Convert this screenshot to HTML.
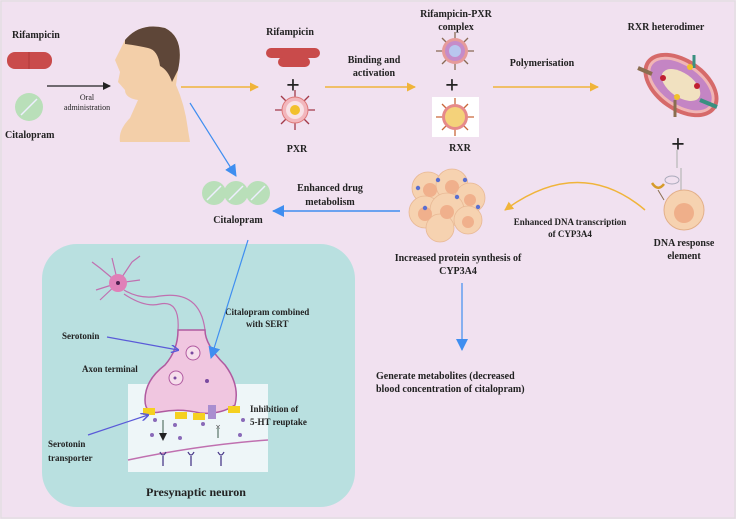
<!DOCTYPE html>
<html><head><meta charset="utf-8"><style>
html,body{margin:0;padding:0;background:#fff}
svg{display:block}
text{font-family:"Liberation Serif",serif;font-weight:bold;fill:#222}
</style></head><body>
<svg width="736" height="519" viewBox="0 0 736 519" xmlns="http://www.w3.org/2000/svg">
<defs>
<marker id="ab" markerWidth="8" markerHeight="8" refX="7" refY="4" orient="auto" markerUnits="userSpaceOnUse"><path d="M0,0 L8,4 L0,8z" fill="#222"/></marker>
<marker id="ao" markerWidth="9" markerHeight="9" refX="8" refY="4.5" orient="auto" markerUnits="userSpaceOnUse"><path d="M0,0 L9,4.5 L0,9z" fill="#f0b43a"/></marker>
<marker id="abl" markerWidth="12" markerHeight="12" refX="11" refY="6" orient="auto" markerUnits="userSpaceOnUse"><path d="M0,0 L12,6 L0,12z" fill="#3f8ef0"/></marker>
<marker id="ap" markerWidth="8" markerHeight="8" refX="7" refY="4" orient="auto" markerUnits="userSpaceOnUse"><path d="M0,0 L8,4 L0,8" fill="none" stroke="#5a5ad8" stroke-width="1.5"/></marker>
</defs>
<rect x="0" y="0" width="736" height="519" fill="#f1e1f0"/>
<rect x="1" y="1" width="734" height="517" fill="none" stroke="#ddd" stroke-width="1"/>

<text x="12" y="38" font-size="10">Rifampicin</text>
<rect x="7" y="52" width="45" height="17" rx="8" fill="#c94b4b"/>
<line x1="29" y1="52" x2="29" y2="69" stroke="#b03a3a"/>
<line x1="47" y1="86" x2="110" y2="86" stroke="#222" stroke-width="1.3" marker-end="url(#ab)"/>
<text x="87" y="100" font-size="8" text-anchor="middle" style="font-weight:normal">Oral</text>
<text x="87" y="110" font-size="8" text-anchor="middle" style="font-weight:normal">administration</text>
<circle cx="29" cy="107" r="14" fill="#b9dfb9"/>
<line x1="21" y1="115" x2="37" y2="99" stroke="#eef" stroke-width="1.5"/>
<text x="5" y="138" font-size="10">Citalopram</text>

<path d="M125,40 Q140,22 165,28 Q185,38 178,70 L176,85 Q185,105 188,130 L190,142 L120,142 Q118,130 130,118 L138,100 Q125,98 125,90 L118,82 L120,72 L115,60 Z" fill="#f3cfa9"/>
<path d="M125,40 Q140,22 165,28 Q185,38 178,70 L172,82 Q168,70 160,66 Q158,50 148,48 Q135,45 125,44 Z" fill="#5e4638"/>

<line x1="181" y1="87" x2="258" y2="87" stroke="#f0b43a" stroke-width="1.5" marker-end="url(#ao)"/>

<text x="290" y="35" font-size="10" text-anchor="middle">Rifampicin</text>
<rect x="266" y="48" width="54" height="10" rx="5" fill="#c94b4b"/>
<rect x="278" y="57" width="32" height="10" rx="5" fill="#c94b4b"/>
<text x="293" y="93" font-size="24" text-anchor="middle" fill="#111">+</text>
<g transform="translate(295,110)">
<g stroke="#a33a4a" stroke-width="1.3"><line x1="-20" y1="0" x2="20" y2="0"/><line x1="0" y1="-20" x2="0" y2="20"/><line x1="-14" y1="-14" x2="14" y2="14"/><line x1="-14" y1="14" x2="14" y2="-14"/></g>
<circle r="13" fill="#f2b7bd" stroke="#d77"/><circle r="9" fill="#f8e2e6"/><circle r="5" fill="#f2c02c"/>
</g>
<text x="297" y="152" font-size="10" text-anchor="middle">PXR</text>

<text x="374" y="63" font-size="10" text-anchor="middle">Binding and</text>
<text x="374" y="76" font-size="10" text-anchor="middle">activation</text>
<line x1="325" y1="87" x2="415" y2="87" stroke="#f0b43a" stroke-width="1.5" marker-end="url(#ao)"/>

<text x="456" y="17" font-size="10" text-anchor="middle">Rifampicin-PXR</text>
<text x="456" y="30" font-size="10" text-anchor="middle">complex</text>
<g transform="translate(455,51)">
<g stroke="#8a6a55" stroke-width="1.3"><line x1="-19" y1="0" x2="19" y2="0"/><line x1="0" y1="-19" x2="0" y2="19"/><line x1="-13" y1="-13" x2="13" y2="13"/><line x1="-13" y1="13" x2="13" y2="-13"/></g>
<circle r="13" fill="#e69a9a"/><circle r="10" fill="#c58cc9"/><circle r="6" fill="#b8c6ee"/>
</g>
<text x="452" y="93" font-size="24" text-anchor="middle" fill="#111">+</text>
<rect x="432" y="97" width="47" height="40" fill="#fff"/>
<g transform="translate(455,117)">
<g stroke="#c9673a" stroke-width="1.3"><line x1="-19" y1="0" x2="19" y2="0"/><line x1="0" y1="-19" x2="0" y2="19"/><line x1="-13" y1="-13" x2="13" y2="13"/><line x1="-13" y1="13" x2="13" y2="-13"/></g>
<circle r="13" fill="#e68a8a"/><circle r="10" fill="#f4d27a"/>
</g>
<text x="460" y="151" font-size="10" text-anchor="middle">RXR</text>

<text x="542" y="66" font-size="10" text-anchor="middle">Polymerisation</text>
<line x1="493" y1="87" x2="598" y2="87" stroke="#f0b43a" stroke-width="1.5" marker-end="url(#ao)"/>

<text x="666" y="30" font-size="10" text-anchor="middle">RXR heterodimer</text>
<g transform="translate(681,85) rotate(35)">
<ellipse rx="42" ry="26" fill="#d66a6a"/><ellipse rx="38" ry="22" fill="#f0b5b5"/><ellipse rx="35" ry="19" fill="#c485c4"/><ellipse rx="22" ry="12" fill="#f1e1c0"/>
</g>
<line x1="638" y1="68" x2="652" y2="74" stroke="#8b6e50" stroke-width="4"/>
<line x1="694" y1="55" x2="694" y2="68" stroke="#3a9080" stroke-width="3"/>
<line x1="700" y1="100" x2="717" y2="107" stroke="#3a9080" stroke-width="4"/>
<line x1="675" y1="100" x2="675" y2="117" stroke="#8b6e50" stroke-width="3"/>
<circle cx="663" cy="78" r="3" fill="#c02030"/><circle cx="697" cy="86" r="3" fill="#c02030"/>
<circle cx="690" cy="67" r="3" fill="#f2c02c"/><circle cx="677" cy="97" r="3" fill="#f2c02c"/>

<text x="678" y="152" font-size="24" text-anchor="middle" fill="#111">+</text>
<circle cx="684" cy="210" r="20" fill="#f6d2b0" stroke="#e3b08a"/>
<circle cx="684" cy="213" r="10" fill="#efaf8a"/>
<path d="M681,190 L681,168 M677,168 L677,150" stroke="#bbb" stroke-width="1.3" fill="none"/>
<ellipse cx="672" cy="180" rx="7" ry="4" fill="none" stroke="#aab"/>
<path d="M652,183 Q658,192 664,184" stroke="#d69b2a" stroke-width="2.5" fill="none"/>
<line x1="658" y1="190" x2="664" y2="200" stroke="#8b6e50"/>
<text x="684" y="246" font-size="10" text-anchor="middle">DNA response</text>
<text x="684" y="259" font-size="10" text-anchor="middle">element</text>

<path d="M645,210 Q580,155 505,210" fill="none" stroke="#f0b43a" stroke-width="1.5" marker-end="url(#ao)"/>
<text x="570" y="225" font-size="9" text-anchor="middle">Enhanced DNA transcription</text>
<text x="570" y="237" font-size="9" text-anchor="middle">of CYP3A4</text>

<g fill="#f6d2b0" stroke="#e8b894" stroke-width="0.8">
<circle cx="428" cy="188" r="16"/><circle cx="452" cy="185" r="16"/><circle cx="470" cy="198" r="15"/><circle cx="425" cy="212" r="16"/><circle cx="447" cy="210" r="17"/><circle cx="468" cy="220" r="14"/><circle cx="440" cy="228" r="14"/>
</g>
<g fill="#f0b08c"><circle cx="430" cy="190" r="7"/><circle cx="452" cy="187" r="7"/><circle cx="470" cy="200" r="6"/><circle cx="425" cy="214" r="7"/><circle cx="447" cy="212" r="7"/><circle cx="468" cy="222" r="6"/></g>
<g fill="#5a6fd0"><circle cx="418" cy="188" r="2.2"/><circle cx="438" cy="180" r="2.2"/><circle cx="465" cy="180" r="2.2"/><circle cx="457" cy="197" r="2.2"/><circle cx="425" cy="208" r="2.2"/><circle cx="478" cy="207" r="2.2"/></g>
<text x="458" y="261" font-size="10" text-anchor="middle">Increased protein synthesis of</text>
<text x="458" y="274" font-size="10" text-anchor="middle">CYP3A4</text>

<line x1="400" y1="211" x2="273" y2="211" stroke="#3f8ef0" stroke-width="1.5" marker-end="url(#abl)"/>
<text x="330" y="191" font-size="10" text-anchor="middle">Enhanced drug</text>
<text x="330" y="205" font-size="10" text-anchor="middle">metabolism</text>

<line x1="190" y1="103" x2="236" y2="176" stroke="#3f8ef0" stroke-width="1.2" marker-end="url(#abl)"/>
<g fill="#b9dfb9"><circle cx="214" cy="193" r="12"/><circle cx="236" cy="193" r="12"/><circle cx="258" cy="193" r="12"/></g>
<g stroke="#eef" stroke-width="1.5"><line x1="207" y1="200" x2="221" y2="186"/><line x1="229" y1="200" x2="243" y2="186"/><line x1="251" y1="200" x2="265" y2="186"/></g>
<text x="238" y="223" font-size="10" text-anchor="middle">Citalopram</text>

<line x1="462" y1="283" x2="462" y2="350" stroke="#3f8ef0" stroke-width="1.2" marker-end="url(#abl)"/>
<text x="376" y="379" font-size="10">Generate metabolites (decreased</text>
<text x="376" y="392" font-size="10">blood concentration of citalopram)</text>

<rect x="42" y="244" width="313" height="263" rx="35" fill="#b9e0e0"/>
<rect x="128" y="384" width="140" height="88" fill="#eef6f8"/>
<path d="M128,460 Q200,445 268,440" stroke="#c070b0" stroke-width="1.5" fill="none"/>
<g stroke="#c070b0" stroke-width="1.2" fill="none">
<path d="M118,283 L100,268 M118,283 L112,258 M118,283 L132,262 M118,283 L140,280 M118,283 L100,300 M118,283 L96,290 M100,268 L92,262 M132,262 L140,256"/>
<path d="M124,290 Q140,300 160,296 Q200,290 205,330 M124,294 Q145,308 160,304 Q180,300 178,330"/>
</g>
<circle cx="118" cy="283" r="9" fill="#e080b8"/><circle cx="118" cy="283" r="2" fill="#502050"/>
<path d="M178,330 L205,330 Q205,345 225,365 Q240,385 235,405 Q220,415 200,413 Q180,408 160,412 Q145,415 145,400 Q145,380 165,365 Q178,350 178,330Z" fill="#f0c6e0" stroke="#b05aa0" stroke-width="1.5"/>
<circle cx="193" cy="353" r="7" fill="#f6ddeb" stroke="#b05aa0"/><circle cx="176" cy="378" r="7" fill="#f6ddeb" stroke="#b05aa0"/>
<circle cx="207" cy="381" r="2" fill="#7a4aa0"/><circle cx="192" cy="353" r="1.5" fill="#7a4aa0"/><circle cx="175" cy="378" r="1.5" fill="#7a4aa0"/>
<g fill="#f5d020"><rect x="143" y="408" width="12" height="7"/><rect x="175" y="412" width="12" height="7"/><rect x="193" y="413" width="12" height="7"/><rect x="228" y="406" width="12" height="7"/></g>
<rect x="208" y="405" width="8" height="14" fill="#a98ed0"/>
<g fill="#8a6ab8"><circle cx="155" cy="420" r="2"/><circle cx="175" cy="425" r="2"/><circle cx="203" cy="424" r="2"/><circle cx="243" cy="420" r="2"/><circle cx="152" cy="435" r="2"/><circle cx="180" cy="438" r="2"/><circle cx="240" cy="435" r="2"/></g>
<g stroke="#4a3a8a" stroke-width="1.3" fill="none"><path d="M160,452 Q163,458 166,452 M163,456 L163,466 M188,452 Q191,458 194,452 M191,456 L191,466 M218,452 Q221,458 224,452 M221,456 L221,466"/></g>
<path d="M163,420 L163,440" stroke="#3a5a4a" stroke-width="1" marker-end="url(#ab)"/>
<path d="M218,438 L218,428" stroke="#3a5a4a" stroke-width="1"/>
<text x="218" y="430" font-size="9" fill="#e04040" text-anchor="middle" style="font-weight:normal">×</text>

<text x="62" y="339" font-size="9">Serotonin</text>
<line x1="107" y1="337" x2="178" y2="350" stroke="#5a5ad8" stroke-width="1.2" marker-end="url(#ap)"/>
<text x="82" y="372" font-size="9">Axon terminal</text>
<text x="225" y="315" font-size="9">Citalopram combined</text>
<text x="246" y="327" font-size="9">with SERT</text>
<line x1="248" y1="240" x2="211" y2="358" stroke="#3f8ef0" stroke-width="1.2" marker-end="url(#abl)"/>
<text x="250" y="412" font-size="9">Inhibition of</text>
<text x="250" y="425" font-size="9">5-HT reuptake</text>
<text x="48" y="447" font-size="9">Serotonin</text>
<text x="48" y="461" font-size="9">transporter</text>
<line x1="88" y1="435" x2="148" y2="415" stroke="#5a5ad8" stroke-width="1.2" marker-end="url(#ap)"/>
<text x="196" y="496" font-size="12" text-anchor="middle">Presynaptic neuron</text>
</svg>
</body></html>
